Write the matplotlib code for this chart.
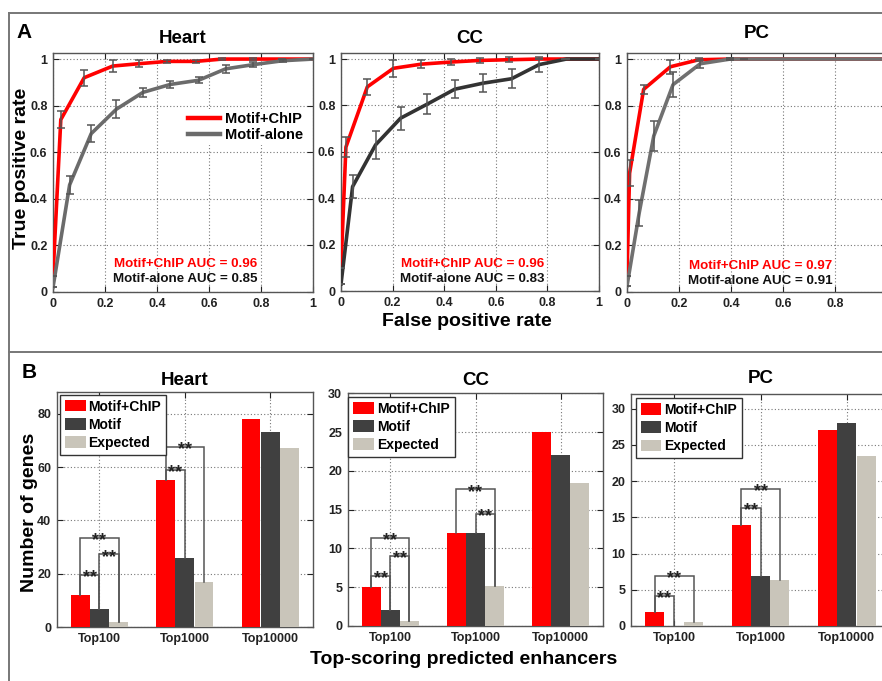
import matplotlib
matplotlib.use('Agg')
import matplotlib.pyplot as plt
from matplotlib.lines import Line2D
from matplotlib.patches import Patch

plt.rcParams['font.family'] = ['Liberation Sans', 'DejaVu Sans']
plt.rcParams['font.weight'] = 'bold'

# ---------------- data: ROC curves (panel A) ----------------
heart_chip_fpr = [0, 0.03, 0.12, 0.23, 0.33, 0.44, 0.55, 0.65, 0.77, 0.88, 1.0]
heart_chip_tpr = [0.07, 0.74, 0.92, 0.97, 0.98, 0.99, 0.99, 1.0, 1.0, 1.0, 1.0]
heart_chip_err = [0, 0.035, 0.035, 0.025, 0.015, 0.008, 0.008, 0.004, 0.003, 0, 0]
heart_alone_fpr = [0, 0.064, 0.147, 0.244, 0.346, 0.451, 0.56, 0.664, 0.77, 0.885, 1.0]
heart_alone_tpr = [0.02, 0.46, 0.68, 0.785, 0.857, 0.891, 0.909, 0.958, 0.976, 0.993, 1.0]
heart_alone_err = [0, 0.04, 0.036, 0.04, 0.018, 0.016, 0.013, 0.018, 0.012, 0.005, 0]

cc_chip_fpr = [0, 0.019, 0.102, 0.203, 0.312, 0.426, 0.538, 0.652, 0.768, 0.87, 1.0]
cc_chip_tpr = [0.10, 0.62, 0.88, 0.96, 0.978, 0.987, 0.994, 0.997, 1.0, 1.0, 1.0]
cc_chip_err = [0, 0.043, 0.034, 0.036, 0.018, 0.014, 0.012, 0.01, 0, 0, 0]
cc_alone_fpr = [0, 0.045, 0.134, 0.231, 0.335, 0.441, 0.551, 0.661, 0.768, 0.874, 1.0]
cc_alone_tpr = [0.03, 0.45, 0.63, 0.745, 0.806, 0.87, 0.896, 0.915, 0.976, 1.0, 1.0]
cc_alone_err = [0, 0.05, 0.06, 0.05, 0.045, 0.04, 0.038, 0.042, 0.032, 0, 0]

pc_chip_fpr = [0, 0.01, 0.064, 0.167, 0.276, 0.395, 0.45, 1.0]
pc_chip_tpr = [0.07, 0.51, 0.87, 0.967, 0.997, 1.0, 1.0, 1.0]
pc_chip_err = [0, 0.055, 0.02, 0.03, 0.007, 0.004, 0, 0]
pc_alone_fpr = [0, 0.047, 0.103, 0.177, 0.282, 0.397, 1.0]
pc_alone_tpr = [0.026, 0.34, 0.67, 0.89, 0.98, 1.0, 1.0]
pc_alone_err = [0, 0.055, 0.065, 0.055, 0.018, 0.005, 0]

auc_chip = ['0.96', '0.96', '0.97']
auc_alone = ['0.85', '0.83', '0.91']
tissues = ['Heart', 'CC', 'PC']

# ---------------- data: bar charts (panel B) ----------------
groups = ['Top100', 'Top1000', 'Top10000']
heart_chip = [12, 55, 78]
heart_motif = [7, 26, 73]
heart_exp = [2, 17, 67]
cc_chip = [5, 12, 25]
cc_motif = [2, 12, 22]
cc_exp = [0.65, 5.1, 18.5]
pc_chip = [2, 14, 27]
pc_motif = [0, 6.9, 28]
pc_exp = [0.6, 6.3, 23.5]
# significance brackets: (group, bar i, bar j, height)
heart_brackets = [(0, 0, 1, 19.6), (0, 1, 2, 27.3), (0, 0, 2, 33.6), (1, 0, 1, 59.0), (1, 0, 2, 67.5)]
cc_brackets = [(0, 0, 1, 6.4), (0, 1, 2, 9.0), (0, 0, 2, 11.4), (1, 1, 2, 14.4), (1, 0, 2, 17.6)]
pc_brackets = [(0, 0, 1, 4.2), (0, 0, 2, 6.9), (1, 0, 1, 16.3), (1, 0, 2, 18.9)]

RED = '#ff0000'
DARK = '#404040'
LIGHT = '#c9c5ba'
ALONE_COLORS = ['#6b6b6b', '#333333', '#707070']
ERRC = '#555555'
SPINE = '#555555'

W, H = 882, 681
fig = plt.figure(figsize=(8.82, 6.81), dpi=100)


def box(l, t, r, b):
    return [l / W, 1 - b / H, (r - l) / W, (b - t) / H]


def style(ax):
    ax.tick_params(direction='in', length=4, width=0.8, top=True, right=True,
                   labelsize=9, colors='#222222', pad=4)
    for s in ax.spines.values():
        s.set_color(SPINE)
        s.set_linewidth(1.0)
    ax.grid(True, linestyle=(0, (1, 2)), color='#777777', linewidth=0.8)
    ax.set_axisbelow(True)


# ---------------- panel A ----------------
roc = [
    (heart_chip_fpr, heart_chip_tpr, heart_chip_err, heart_alone_fpr, heart_alone_tpr, heart_alone_err),
    (cc_chip_fpr, cc_chip_tpr, cc_chip_err, cc_alone_fpr, cc_alone_tpr, cc_alone_err),
    (pc_chip_fpr, pc_chip_tpr, pc_chip_err, pc_alone_fpr, pc_alone_tpr, pc_alone_err),
]
a_boxes = [box(53, 53, 313, 292), box(341, 53, 599, 291), box(627, 53, 887, 292)]
a_pads = [7, 7, 11]
aucpos = [(0.51, 0.12, 0.057), (0.51, 0.117, 0.053), (0.513, 0.113, 0.047)]
for k in range(3):
    ax = fig.add_axes(a_boxes[k])
    style(ax)
    cf, ct, ce, af, at, ae = roc[k]
    ac = ALONE_COLORS[k]
    ax.plot(cf, ct, color=RED, lw=2.6, solid_joinstyle='round', zorder=3, label='Motif+ChIP')
    ax.plot(af, at, color=ac, lw=2.6, solid_joinstyle='round', zorder=4, label='Motif-alone')
    ax.errorbar(cf, ct, yerr=ce, fmt='none', ecolor=ERRC, elinewidth=1.1, capsize=2.8, capthick=1.1, zorder=5)
    ax.errorbar(af, at, yerr=ae, fmt='none', ecolor=ERRC, elinewidth=1.1, capsize=2.8, capthick=1.1, zorder=5)
    ax.set_xlim(0, 1)
    ax.set_ylim(0, 1.026)
    ticks = [0, 0.2, 0.4, 0.6, 0.8, 1]
    labs = ['0', '0.2', '0.4', '0.6', '0.8', '1']
    ax.set_xticks(ticks)
    if k == 2:
        ax.set_xticklabels(labs[:-1] + [''])
    else:
        ax.set_xticklabels(labs)
    ax.set_yticks(ticks)
    ax.set_yticklabels(labs)
    ax.set_title(tissues[k], fontsize=13.5, fontweight='bold', pad=a_pads[k])
    xp, y1, y2 = aucpos[k]
    ax.text(xp, y1, 'Motif+ChIP AUC = ' + auc_chip[k], color=RED, fontsize=9.6,
            ha='center', va='center', fontweight='bold', zorder=6)
    ax.text(xp, y2, 'Motif-alone AUC = ' + auc_alone[k], color='#111111', fontsize=9.6,
            ha='center', va='center', fontweight='bold', zorder=6)
    if k == 0:
        leg = ax.legend(loc='upper right', bbox_to_anchor=(0.975, 0.765), fontsize=10.5,
                        frameon=True, facecolor='white', edgecolor='none', framealpha=1,
                        handlelength=2.2, handletextpad=0.4, labelspacing=0.15,
                        borderpad=0.2, borderaxespad=0)
        for h in leg.get_lines():
            h.set_linewidth(3.2)

fig.text(22 / W, 1 - 168 / H, 'True positive rate', rotation=90, ha='center', va='center',
         fontsize=14, fontweight='bold')
fig.text(467 / W, 1 - 322 / H, 'False positive rate', ha='center', va='center',
         fontsize=14, fontweight='bold')

# ---------------- panel B ----------------
bars = [(heart_chip, heart_motif, heart_exp, heart_brackets),
        (cc_chip, cc_motif, cc_exp, cc_brackets),
        (pc_chip, pc_motif, pc_exp, pc_brackets)]
b_boxes = [box(56.7, 392.3, 313, 627.3), box(347.7, 393.3, 603.3, 626), box(631, 394, 890, 626)]
ylims = [88, 30, 32]
yticks = [[0, 20, 40, 60, 80], [0, 5, 10, 15, 20, 25, 30], [0, 5, 10, 15, 20, 25, 30]]
b_pads = [5, 6, 8]
leg_anchor = [(0.013, 0.99), (0.003, 0.985), (0.018, 0.983)]
offs = [-0.225, 0, 0.225]
bw = 0.22
pos = [1, 2, 3]
for k in range(3):
    ax = fig.add_axes(b_boxes[k])
    style(ax)
    chip, motif, exp_, brs = bars[k]
    series = [chip, motif, exp_]
    cols = [RED, DARK, LIGHT]
    names = ['Motif+ChIP', 'Motif', 'Expected']
    for s in range(3):
        ax.bar([p + offs[s] for p in pos], series[s], width=bw, color=cols[s],
               edgecolor='none', zorder=3)
    for (g, i, j, hgt) in brs:
        xi = pos[g] + offs[i]
        xj = pos[g] + offs[j]
        yi = series[i][g]
        yj = series[j][g]
        ax.plot([xi, xi, xj, xj], [yi, hgt, hgt, yj], color='#555555', lw=1.1,
                zorder=4, solid_joinstyle='miter')
        ax.annotate('**', xy=((xi + xj) / 2, hgt), xytext=(0, -5.2),
                    textcoords='offset points', ha='center', va='baseline',
                    fontsize=13, color='#222222', zorder=5)
    ax.set_xlim(0.5, 3.5)
    ax.set_ylim(0, ylims[k])
    ax.set_xticks(pos)
    ax.set_xticklabels(groups)
    ax.set_yticks(yticks[k])
    ax.set_title(tissues[k], fontsize=13.5, fontweight='bold', pad=b_pads[k])
    handles = [Patch(facecolor=cols[s], edgecolor='none', label=names[s]) for s in range(3)]
    leg = ax.legend(handles=handles, loc='upper left', bbox_to_anchor=leg_anchor[k],
                    fontsize=10, frameon=True, fancybox=False, edgecolor='#333333',
                    facecolor='white', framealpha=1, handlelength=1.5, handleheight=0.9,
                    handletextpad=0.2, labelspacing=0.3, borderpad=0.35, borderaxespad=0)
    leg.get_frame().set_linewidth(1.0)
    leg.set_zorder(10)

fig.text(30 / W, 1 - 512 / H, 'Number of genes', rotation=90, ha='center', va='center',
         fontsize=14, fontweight='bold')
fig.text(464 / W, 1 - 660 / H, 'Top-scoring predicted enhancers', ha='center', va='center',
         fontsize=14, fontweight='bold')

# panel letters
fig.text(16 / W, 1 - 38 / H, 'A', fontsize=15, fontweight='bold', va='baseline')
fig.text(22 / W, 1 - 378 / H, 'B', fontsize=15, fontweight='bold', va='baseline')

# panel frames
fc = '#777777'
fig.add_artist(Line2D([9 / W, 1], [1 - 12.5 / H, 1 - 12.5 / H], transform=fig.transFigure, color=fc, lw=1.4))
fig.add_artist(Line2D([9 / W, 9 / W], [0, 1 - 12.5 / H], transform=fig.transFigure, color=fc, lw=1.4))
fig.add_artist(Line2D([9 / W, 1], [1 - 352 / H, 1 - 352 / H], transform=fig.transFigure, color=fc, lw=1.4))

fig.savefig('out.png', dpi=100)
